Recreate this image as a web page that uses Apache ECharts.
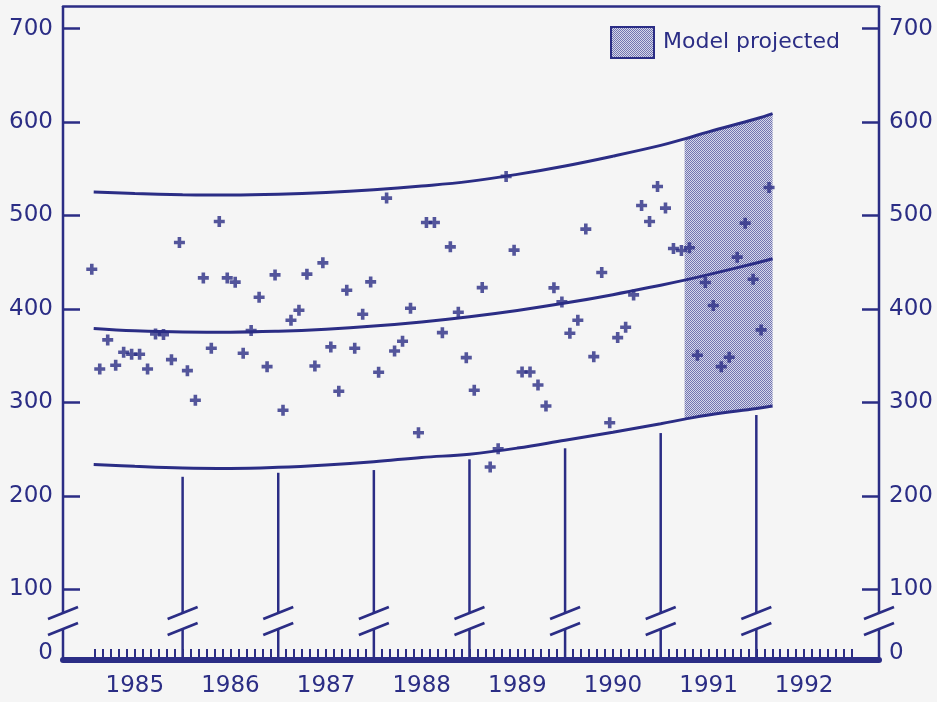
<!DOCTYPE html>
<html>
<head>
<meta charset="utf-8">
<script src="https://cdn.jsdelivr.net/npm/echarts@6/dist/echarts.min.js"></script>
<style>
html,body{margin:0;padding:0;background:#f5f5f5;}
#chart{width:937px;height:702px;}
</style>
</head>
<body>
<div id="chart"></div>
<script>
// ---- data ----
const firstYear = 1985; // monthly observations start January 1985
const monthlyValues = [
  442.5, 335.7, 366.8, 339.7, 353.6, 351.5, 351.5, 335.7, 373.2, 372.5, 345.7, 471.0,
  333.9, 302.2, 433.2, 357.9, 493.5, 433.2, 428.6, 352.5, 376.8, 412.5, 338.2, 436.4,
  291.5, 387.9, 398.6, 437.2, 338.9, 449.3, 359.3, 311.8, 420.0, 357.9, 394.3, 428.9,
  332.2, 518.6, 355.0, 365.4, 400.7, 267.5, 492.5, 492.5, 374.6, 466.4, 396.4, 347.8,
  312.9, 422.8, 230.7, 250.3, 541.8, 462.9, 332.5, 332.5, 318.6, 296.1, 422.5, 407.5,
  374.0, 387.9, 485.4, 348.9, 438.9, 278.2, 369.3, 380.4, 415.0, 510.7, 493.5, 531.0,
  507.9, 464.6, 462.5, 465.4, 350.4, 428.2, 403.6, 338.2, 348.3, 455.4, 491.8, 431.8,
  377.5, 530.0
];
const curveYears   = [1985.07, 1985.5, 1986, 1986.5, 1987, 1987.5, 1988, 1988.5, 1989, 1989.5, 1990, 1990.5, 1991, 1991.25, 1991.5, 1992, 1992.17];
const upperBand    = [525.0, 523.5, 522.3, 521.8, 522.6, 524.5, 527.5, 531.5, 536.5, 544.0, 553.0, 563.5, 575.0, 582.0, 589.5, 603.5, 609.0];
const centerTrend  = [379.0, 376.5, 375.2, 375.1, 376.1, 378.3, 381.6, 386.0, 391.6, 398.3, 406.2, 415.2, 425.4, 430.8, 436.7, 449.1, 453.6];
const lowerBand    = [233.4, 231.5, 229.8, 229.3, 230.5, 233.0, 236.5, 241.0, 244.5, 251.0, 259.5, 268.0, 277.0, 282.0, 286.5, 293.5, 296.0];
const projectionStart = 1991.25;
const yearBoundaries = [1986, 1987, 1988, 1989, 1990, 1991, 1992];
const boundaryTops   = [220.3, 224.6, 227.5, 239.0, 250.8, 267.1, 286.4];
const yearLabels = [1985, 1986, 1987, 1988, 1989, 1990, 1991, 1992];
const yLabelValues = [0, 100, 200, 300, 400, 500, 600, 700];
const legendName = 'Model projected';

// ---- axis geometry (broken value axis) ----
const X_MIN = 1984.749, X_MAX = 1993.283;
const Y_MIN = 24.2, Y_MAX = 724.2;      // bottom of broken axis stands for 0
const BREAK_HIGH = 74.5, BREAK_LOW = 57.4;
const ZERO_LABEL_POS = 32;
const NAVY = '#2b2d85';
const FONT = 'DejaVu Sans';

function makePattern() {
  const c = document.createElement('canvas');
  c.width = 2; c.height = 2;
  const g = c.getContext('2d');
  g.fillStyle = '#d6d7ea'; g.fillRect(0, 0, 2, 2);
  g.fillStyle = '#7275b0'; g.fillRect(0, 0, 1, 1); g.fillRect(1, 1, 1, 1);
  return { image: c, repeat: 'repeat' };
}
const pattern = makePattern();

const scatterData = monthlyValues.map((v, i) => [firstYear + (i + 0.6) / 12, v]);
const curve = arr => curveYears.map((y, k) => [y, arr[k]]);
const monthTicks = [];
for (let k = 1; k <= 96; k++) monthTicks.push(firstYear + k / 12);
const posts = yearBoundaries.map((y, k) => [y, boundaryTops[k]])
  .concat([[X_MIN, Y_MAX], [X_MAX, Y_MAX]]);
const yPos = v => (v === 0 ? ZERO_LABEL_POS : v);

const chart = echarts.init(document.getElementById('chart'));
const yAxisBase = {
  type: 'value', min: Y_MIN, max: Y_MAX,
  axisLine: { show: false },
  splitLine: { show: false },
  axisTick: { show: true, inside: true, length: 17, customValues: yLabelValues.filter(v => v > 0),
              lineStyle: { color: NAVY, width: 2.5 } },
  axisLabel: { show: true, customValues: yLabelValues.map(yPos), margin: 10,
               color: NAVY, fontFamily: FONT, fontSize: 23,
               formatter: v => (Math.abs(v - ZERO_LABEL_POS) < 0.5 ? '0' : String(Math.round(v))) }
};

chart.setOption({
  animation: false,
  backgroundColor: '#f5f5f5',
  grid: { left: 63, right: 58, top: 6, bottom: 42, containLabel: false },
  legend: {
    show: true, left: 610, top: 26, padding: 0,
    itemWidth: 43, itemHeight: 31,
    data: [{ name: legendName, icon: 'rect',
             itemStyle: { color: pattern, borderColor: NAVY, borderWidth: 2 } }],
    textStyle: { color: NAVY, fontFamily: FONT, fontSize: 22, padding: [15, 0, 0, 4] }
  },
  xAxis: [
    {
      type: 'value', min: X_MIN, max: X_MAX, position: 'bottom',
      axisLine: { show: true, onZero: false, lineStyle: { color: NAVY, width: 6 } },
      splitLine: { show: false },
      axisTick: { show: true, inside: true, length: 11, customValues: monthTicks,
                  lineStyle: { color: NAVY, width: 2 } },
      axisLabel: { show: true, customValues: yearLabels.map(y => y + 0.5), margin: 15,
                   color: NAVY, fontFamily: FONT, fontSize: 23,
                   formatter: v => String(Math.floor(v)) }
    },
    {
      type: 'value', min: X_MIN, max: X_MAX, position: 'top',
      axisLine: { show: true, onZero: false, lineStyle: { color: NAVY, width: 2.5 } },
      splitLine: { show: false }, axisTick: { show: false }, axisLabel: { show: false }
    }
  ],
  yAxis: [
    Object.assign({}, yAxisBase, { position: 'left' }),
    Object.assign({}, yAxisBase, { position: 'right' })
  ],
  series: [
    {
      name: legendName, type: 'custom', z: 1,
      itemStyle: { color: pattern },
      data: [[projectionStart, 400]],
      encode: { x: 0, y: 1 },
      renderItem: function (params, api) {
        const pts = [];
        for (let k = 0; k < curveYears.length; k++)
          if (curveYears[k] >= projectionStart) pts.push(api.coord([curveYears[k], upperBand[k]]));
        for (let k = curveYears.length - 1; k >= 0; k--)
          if (curveYears[k] >= projectionStart) pts.push(api.coord([curveYears[k], lowerBand[k]]));
        return { type: 'polygon', shape: { points: pts }, style: { fill: pattern, stroke: null } };
      }
    },
    {
      name: 'posts', type: 'custom', z: 2,
      data: posts, encode: { x: 0, y: 1 },
      renderItem: function (params, api) {
        const x = api.value(0), top = api.value(1);
        const pTop = api.coord([x, top]);
        const pHi = api.coord([x, BREAK_HIGH]);
        const pLo = api.coord([x, BREAK_LOW]);
        const pBot = api.coord([x, Y_MIN]);
        const st = { stroke: NAVY, lineWidth: 2.5 };
        const sl = { stroke: NAVY, lineWidth: 2.8 };
        return { type: 'group', children: [
          { type: 'line', shape: { x1: pTop[0], y1: pTop[1], x2: pHi[0], y2: pHi[1] }, style: st },
          { type: 'line', shape: { x1: pLo[0], y1: pLo[1], x2: pBot[0], y2: pBot[1] }, style: st },
          { type: 'line', shape: { x1: pHi[0] - 15, y1: pHi[1] + 6, x2: pHi[0] + 15, y2: pHi[1] - 6 }, style: sl },
          { type: 'line', shape: { x1: pLo[0] - 15, y1: pLo[1] + 6, x2: pLo[0] + 15, y2: pLo[1] - 6 }, style: sl }
        ] };
      }
    },
    { name: 'upper', type: 'line', data: curve(upperBand), smooth: 0.4, symbol: 'none', z: 3,
      lineStyle: { color: NAVY, width: 3 } },
    { name: 'center', type: 'line', data: curve(centerTrend), smooth: 0.4, symbol: 'none', z: 3,
      lineStyle: { color: NAVY, width: 3 } },
    { name: 'lower', type: 'line', data: curve(lowerBand), smooth: 0.4, symbol: 'none', z: 3,
      lineStyle: { color: NAVY, width: 3 } },
    { name: 'observed', type: 'scatter', data: scatterData, z: 4,
      symbol: 'path://M3.7,0h3.6v3.7h3.7v3.6h-3.7v3.7h-3.6v-3.7h-3.7v-3.6h3.7z', symbolSize: 11,
      itemStyle: { color: NAVY } }
  ]
});
</script>
</body>
</html>
